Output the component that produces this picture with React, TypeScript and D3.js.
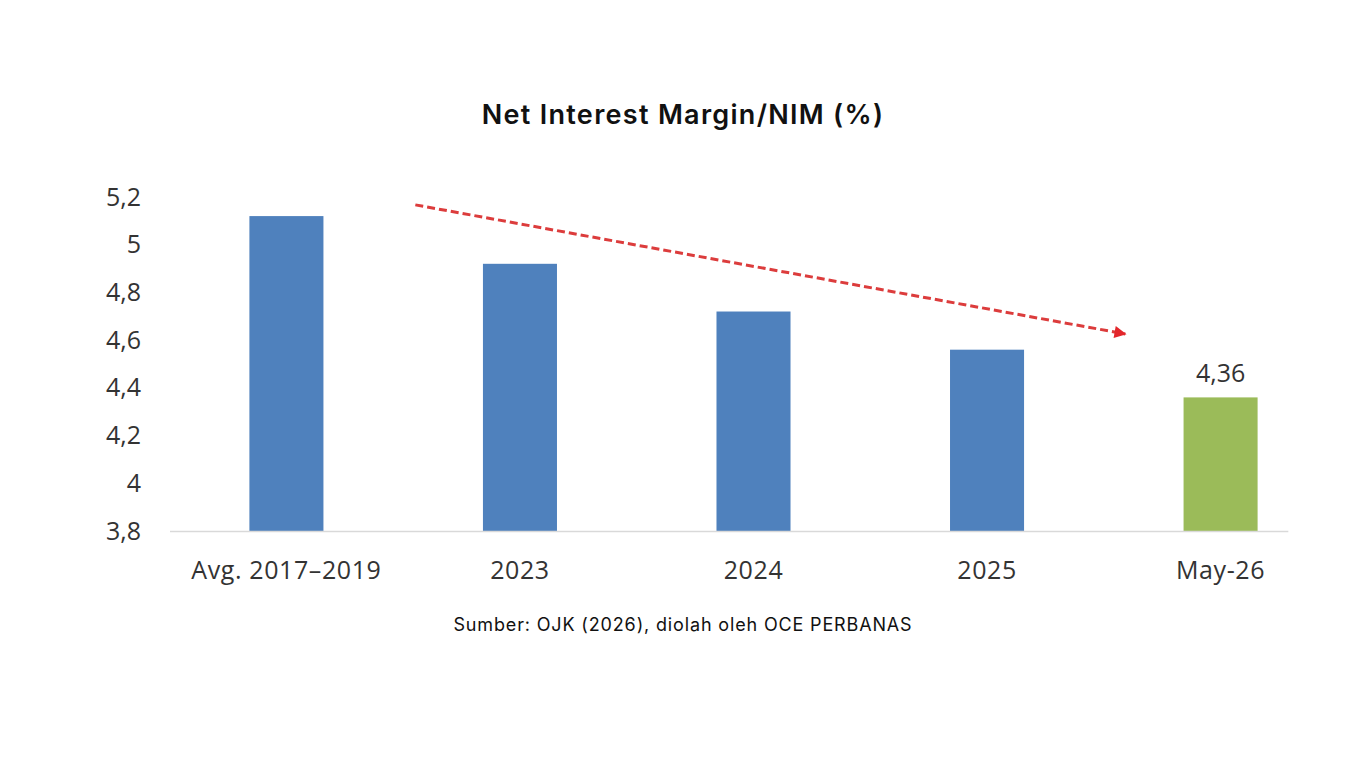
import React, { useEffect, useRef } from "react";
import { select, scaleBand, scaleLinear, axisLeft, axisBottom } from "d3";

// NIM data
const categories = ["Avg. 2017–2019", "2023", "2024", "2025", "May-26"];
const nimValues = [5.12, 4.92, 4.72, 4.56, 4.36];
const yTicks = [3.8, 4, 4.2, 4.4, 4.6, 4.8, 5, 5.2];
const labelledIndex = [4];
// trend arrow, in category-index / value units
const trendFrom = { idx: 0.552, value: 5.167 };
const trendTo = { idx: 3.592, value: 4.626 };

const W = 1366;
const H = 768;
const BLUE = "#4f81bd";
const GREEN = "#9bbb59";
const TEXT = "#333333";
const fmt = (v: number) => String(v).replace(".", ",");

const NimChart = () => {
  const svgRef = useRef<SVGSVGElement>(null);

  useEffect(() => {
    const svg = select(svgRef.current);
    svg.selectAll("*").remove();

    const xScale = scaleBand<string>()
      .domain(categories)
      .range([170, 1337])
      .paddingInner(0.683)
      .paddingOuter(0.34);

    const center = (i: number) => xScale(categories[i])! + xScale.bandwidth() / 2;
    const idxScale = scaleLinear().domain([0, categories.length - 1]).range([center(0), center(categories.length - 1)]);

    const yScale = scaleLinear().domain([3.8, 5.2]).range([531, 197]);

    // title
    svg.append("text")
      .attr("x", W / 2)
      .attr("y", 124)
      .attr("text-anchor", "middle")
      .attr("font-family", "Inter, 'Noto Sans', sans-serif")
      .attr("font-weight", 600)
      .attr("font-size", 27)
      .attr("letter-spacing", 1.3)
      .attr("fill", "#111")
      .text("Net Interest Margin/NIM (%)");

    // y axis labels
    const yAxis = axisLeft(yScale)
      .tickValues(yTicks)
      .tickSize(0)
      .tickPadding(0)
      .tickFormat((d) => fmt(+d));
    const gy = svg.append("g").attr("transform", "translate(141,0)").call(yAxis);
    gy.select(".domain").remove();
    gy.selectAll("text")
      .attr("font-family", "'Open Sans', sans-serif")
      .attr("font-size", 25)
      .attr("fill", TEXT);

    // x axis labels
    const xAxis = axisBottom(xScale).tickSize(0).tickPadding(0);
    const gx = svg.append("g").attr("transform", "translate(0,579)").call(xAxis);
    gx.select(".domain").remove();
    gx.selectAll("text")
      .attr("dy", 0)
      .attr("font-family", "'Open Sans', sans-serif")
      .attr("font-size", 25)
      .attr("letter-spacing", 0.6)
      .attr("fill", TEXT);

    // bars
    svg.selectAll(".bar")
      .data(nimValues)
      .join("rect")
      .attr("class", "bar")
      .attr("x", (_, i) => xScale(categories[i])!)
      .attr("width", xScale.bandwidth())
      .attr("y", (d) => yScale(d))
      .attr("height", (d) => yScale(3.8) - yScale(d))
      .attr("fill", (_, i) => (i === categories.length - 1 ? GREEN : BLUE));

    // baseline
    svg.append("line")
      .attr("x1", xScale.range()[0])
      .attr("x2", idxScale(4.29))
      .attr("y1", yScale(3.8) + 0.5)
      .attr("y2", yScale(3.8) + 0.5)
      .attr("stroke", "#d9d9d9")
      .attr("stroke-width", 1.5);

    // data label
    svg.selectAll(".val")
      .data(labelledIndex)
      .join("text")
      .attr("class", "val")
      .attr("x", (i) => center(i))
      .attr("y", (i) => yScale(nimValues[i]) - 15)
      .attr("text-anchor", "middle")
      .attr("font-family", "'Open Sans', sans-serif")
      .attr("font-size", 25)
      .attr("fill", TEXT)
      .text((i) => fmt(nimValues[i]));

    // trend arrow
    const defs = svg.append("defs");
    defs.append("marker")
      .attr("id", "arrowhead")
      .attr("viewBox", "0 0 10 10")
      .attr("refX", 9)
      .attr("refY", 5)
      .attr("markerUnits", "userSpaceOnUse")
      .attr("markerWidth", 13)
      .attr("markerHeight", 12)
      .attr("orient", "auto")
      .append("path")
      .attr("d", "M0,0 L10,5 L0,10 Z")
      .attr("fill", "#e3262b");

    svg.append("line")
      .attr("x1", idxScale(trendFrom.idx))
      .attr("y1", yScale(trendFrom.value))
      .attr("x2", idxScale(trendTo.idx))
      .attr("y2", yScale(trendTo.value))
      .attr("stroke", "#dc3c3c")
      .attr("stroke-width", 3)
      .attr("stroke-dasharray", "8,4")
      .attr("marker-end", "url(#arrowhead)");

    // source note
    svg.append("text")
      .attr("x", W / 2)
      .attr("y", 631)
      .attr("text-anchor", "middle")
      .attr("font-family", "Inter, 'Noto Sans', sans-serif")
      .attr("font-size", 18)
      .attr("letter-spacing", 0.85)
      .attr("fill", "#111")
      .text("Sumber: OJK (2026), diolah oleh OCE PERBANAS");
  }, []);

  return <svg ref={svgRef} width={W} height={H} viewBox={`0 0 ${W} ${H}`} />;
};

export default function App() {
  return (
    <div style={{ position: "fixed", left: 0, top: 0, width: W, height: H, background: "#fff" }}>
      <NimChart />
    </div>
  );
}
